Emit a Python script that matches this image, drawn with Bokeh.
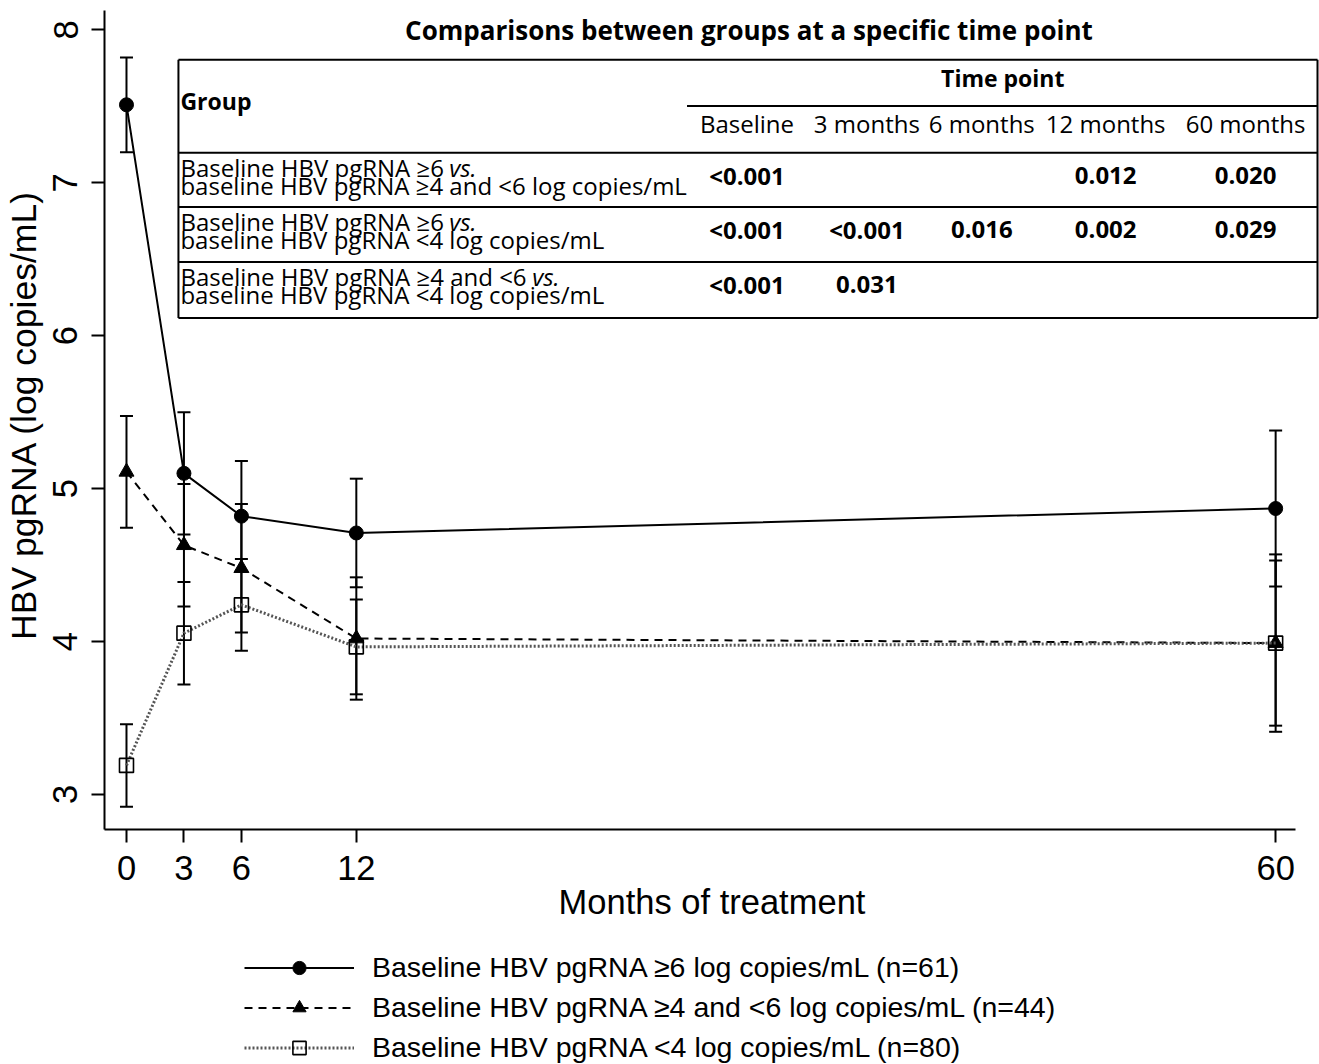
from bokeh.plotting import figure
from bokeh.layouts import column
from bokeh.models import (Range1d, FixedTicker, Whisker, TeeHead, ColumnDataSource,
                          Legend, LegendItem)
from bokeh.core.properties import value
from bokeh.embed import file_html
from bokeh.resources import INLINE

# ---------------- data ----------------
months = [0, 3, 6, 12, 60]
x_ticks = [0, 3, 6, 12, 60]
y_ticks = [3, 4, 5, 6, 7, 8]

high_mean = [7.51, 5.10, 4.82, 4.71, 4.87]
high_err = [0.31, 0.40, 0.36, 0.355, 0.51]
mid_mean = [5.11, 4.63, 4.48, 4.02, 3.99]
mid_err = [0.365, 0.40, 0.42, 0.40, 0.58]
low_mean = [3.19, 4.055, 4.24, 3.965, 3.99]
low_err = [0.27, 0.335, 0.30, 0.31, 0.54]

series_names = [
    "Baseline HBV pgRNA \u22656 log copies/mL (n=61)",
    "Baseline HBV pgRNA \u22654 and <6 log copies/mL (n=44)",
    "Baseline HBV pgRNA <4 log copies/mL (n=80)",
]

x_label = "Months of treatment"
y_label = "HBV pgRNA (log copies/mL)"

table_title = "Comparisons between groups at a specific time point"
table_group_header = "Group"
table_time_header = "Time point"
time_points = ["Baseline", "3 months", "6 months", "12 months", "60 months"]
comparison_line1 = ["Baseline HBV pgRNA \u22656", "Baseline HBV pgRNA \u22656",
                    "Baseline HBV pgRNA \u22654 and <6"]
comparison_vs = ["vs.", "vs.", "vs."]
comparison_line2 = ["baseline HBV pgRNA \u22654 and <6 log copies/mL",
                    "baseline HBV pgRNA <4 log copies/mL",
                    "baseline HBV pgRNA <4 log copies/mL"]
p_values = [
    ["<0.001", "", "", "0.012", "0.020"],
    ["<0.001", "<0.001", "0.016", "0.002", "0.029"],
    ["<0.001", "0.031", "", "", ""],
]

# ---------------- layout constants (canvas pixels) ----------------
W, H = 1319, 1064
H_MAIN = 940
H_LEG = H - H_MAIN
FL, FR, FT, FB = 103, 1319, 0, 829.0
X0, X1 = -1.148, 62.29
Y0, Y1 = 2.771, 8.192


def dx(px):
    return X0 + (px - FL) / (FR - FL) * (X1 - X0)


def dy(py):
    return Y1 - (py - FT) / (FB - FT) * (Y1 - Y0)


AX_FONT = "Liberation Sans"
TB_FONT = "Open Sans"
TB_SIZE = "24px"

p = figure(width=W, height=H_MAIN, output_backend="svg", toolbar_location=None,
           x_range=Range1d(X0, X1), y_range=Range1d(Y0, Y1),
           min_border_left=FL, min_border_right=W - FR, min_border_top=FT,
           min_border_bottom=int(H_MAIN - FB))
p.outline_line_color = None
p.xgrid.visible = False
p.ygrid.visible = False

for ax in (p.xaxis[0], p.yaxis[0]):
    ax.axis_line_width = 2
    ax.major_tick_line_width = 2
    ax.major_tick_out = 13
    ax.major_tick_in = 0
    ax.minor_tick_line_color = None
    ax.major_label_text_font = AX_FONT
    ax.major_label_text_font_size = "34.5px"
    ax.axis_label_text_font = AX_FONT
    ax.axis_label_text_font_style = "normal"
    ax.major_label_text_color = "black"
    ax.axis_label_text_color = "black"

p.xaxis.axis_label_text_font_size = "34.5px"
p.yaxis.axis_label_text_font_size = "35.5px"
p.xaxis.ticker = FixedTicker(ticks=x_ticks)
p.yaxis.ticker = FixedTicker(ticks=y_ticks)
p.xaxis.bounds = (X0, dx(1295))
p.yaxis.bounds = (Y0, dy(10))
p.xaxis.axis_label = x_label
p.yaxis.axis_label = y_label
p.yaxis.major_label_orientation = "vertical"
p.xaxis.major_label_standoff = 13
p.yaxis.major_label_standoff = 14
p.xaxis.axis_label_standoff = 0
p.yaxis.axis_label_standoff = 7

# ---------------- series ----------------
series = [
    (high_mean, high_err, dict(line_dash="solid", line_width=2, line_color="black"),
     dict(marker="circle", size=14, fill_color="black", line_color="black")),
    (mid_mean, mid_err, dict(line_dash="8 6", line_width=2, line_color="black"),
     dict(marker="triangle", size=15, fill_color="black", line_color="black")),
    (low_mean, low_err, dict(line_dash="2 2", line_width=3, line_color="#555555"),
     dict(marker="square", size=14, fill_color=None, line_color="black", line_width=1.6)),
]

# legend lives in its own strip below the chart
lg = figure(width=W, height=H_LEG, output_backend="svg", toolbar_location=None,
            x_range=Range1d(0, 1), y_range=Range1d(0, 1),
            min_border_left=0, min_border_right=0, min_border_top=0, min_border_bottom=0)
lg.outline_line_color = None
lg.xaxis.visible = False
lg.yaxis.visible = False
lg.xgrid.visible = False
lg.ygrid.visible = False

legend_items = []
for (mean, err, lstyle, mstyle), name in zip(series, series_names):
    src = ColumnDataSource(dict(x=months, y=mean,
                                upper=[m + e for m, e in zip(mean, err)],
                                lower=[m - e for m, e in zip(mean, err)]))
    wh = Whisker(source=src, base="x", upper="upper", lower="lower",
                 dimension="height", line_width=2, line_color="black",
                 upper_head=TeeHead(size=13, line_width=2, line_color="black"),
                 lower_head=TeeHead(size=13, line_width=2, line_color="black"))
    p.add_layout(wh)
    p.line("x", "y", source=src, **lstyle)
    p.scatter("x", "y", source=src, **mstyle)
    # proxies in the legend strip (data lies outside its 0..1 ranges, so only the key shows)
    lr = lg.line("x", "y", source=src, **lstyle)
    sr = lg.scatter("x", "y", source=src, **mstyle)
    legend_items.append(LegendItem(label=name, renderers=[lr, sr]))

legend = Legend(items=legend_items, location=(140, 0), orientation="vertical",
                glyph_width=110, glyph_height=33, spacing=7, label_standoff=18,
                padding=0, margin=0, border_line_alpha=0, background_fill_alpha=0,
                label_text_font=AX_FONT, label_text_font_size="28.5px",
                label_text_color="black", label_height=33)
lg.add_layout(legend, "center")

# ---------------- inset table ----------------
tb_left, tb_right, tb_top = 177, 1317, 59.3
row_lines = [152.3, 206.5, 261.5, 317.5]
time_line_y, time_line_left = 105.5, 686
col_x = [746, 866, 981, 1105, 1245]

seg_x0 = [dx(tb_left), dx(tb_right), dx(tb_left), dx(time_line_left)] + [dx(tb_left)] * len(row_lines)
seg_x1 = [dx(tb_left), dx(tb_right), dx(tb_right), dx(tb_right)] + [dx(tb_right)] * len(row_lines)
seg_y0 = [dy(tb_top), dy(tb_top), dy(tb_top), dy(time_line_y)] + [dy(v) for v in row_lines]
seg_y1 = [dy(row_lines[-1]), dy(row_lines[-1]), dy(tb_top), dy(time_line_y)] + [dy(v) for v in row_lines]
p.segment(seg_x0, seg_y0, seg_x1, seg_y1, line_color="black", line_width=2)

p.text([dx(748)], [dy(29)], text=[table_title], text_font=value(TB_FONT),
       text_font_size="26px", text_font_style="bold", text_align="center",
       text_baseline="middle", text_color="black")
p.text([dx(179)], [dy(100)], text=[table_group_header], text_font=value(TB_FONT),
       text_font_size="23px", text_font_style="bold", text_align="left",
       text_baseline="middle", text_color="black")
p.text([dx(1002)], [dy(77)], text=[table_time_header], text_font=value(TB_FONT),
       text_font_size="23px", text_font_style="bold", text_align="center",
       text_baseline="middle", text_color="black")
p.text([dx(c) for c in col_x], [dy(123)] * len(col_x), text=time_points,
       text_font=value(TB_FONT), text_font_size=TB_SIZE, text_align="center",
       text_baseline="middle", text_color="black")

vs_x = [448, 448, 531]
for i, top in enumerate(row_lines[:-1]):
    p.text([dx(179)], [dy(top + 14.5)], text=[comparison_line1[i]], text_font=value(TB_FONT),
           text_font_size=TB_SIZE, text_align="left", text_baseline="middle",
           text_color="black")
    p.text([dx(vs_x[i])], [dy(top + 14.5)], text=[comparison_vs[i]], text_font=value(TB_FONT),
           text_font_size=TB_SIZE, text_font_style="italic", text_align="left",
           text_baseline="middle", text_color="black")
    p.text([dx(179)], [dy(top + 32.5)], text=[comparison_line2[i]], text_font=value(TB_FONT),
           text_font_size=TB_SIZE, text_align="left", text_baseline="middle",
           text_color="black")
    p.text([dx(c) for c in col_x], [dy(top + 22.5)] * len(col_x), text=p_values[i],
           text_font=value(TB_FONT), text_font_size=TB_SIZE, text_font_style="bold",
           text_align="center", text_baseline="middle", text_color="black")

layout = column(p, lg, spacing=0)
open("out.html", "w").write(file_html(layout, INLINE))
